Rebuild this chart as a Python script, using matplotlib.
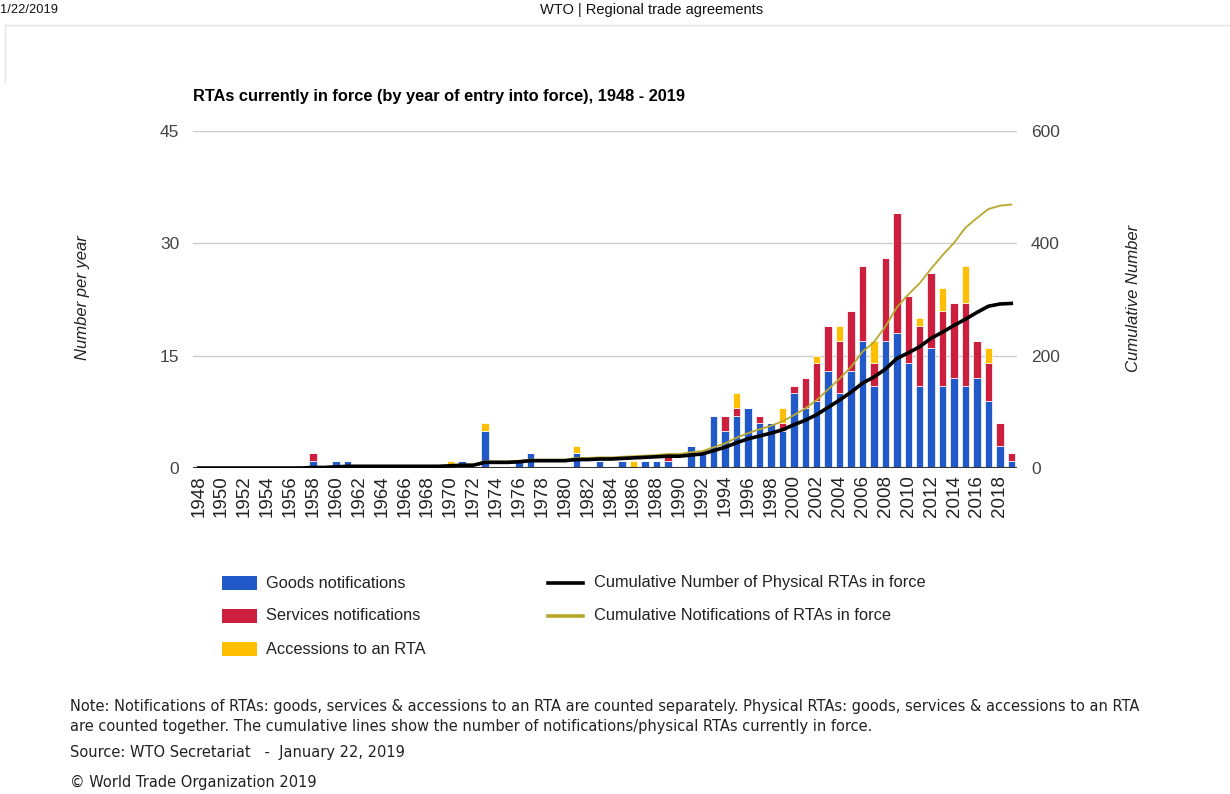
import matplotlib
matplotlib.use("Agg")
import matplotlib.pyplot as plt
from matplotlib.patches import Rectangle
from matplotlib.lines import Line2D
import numpy as np

years = list(range(1948, 2020))

goods = [0,0,0,0,0,0,0,0,0,0, 1,0,1,1,0,0,0,0,0,0,
         0,0,0,1,0,5,0,0,1,2, 0,0,0,2,0,1,0,1,0,1,
         1,1,0,3,2,7,5,7,8,6, 6,5,10,8,9,13,10,13,17,11,
         17,18,14,11,16,11,12,11,12,9, 3,1]
services = [0,0,0,0,0,0,0,0,0,0, 1,0,0,0,0,0,0,0,0,0,
            0,0,0,0,0,0,0,0,0,0, 0,0,0,0,0,0,0,0,0,0,
            0,1,0,0,0,0,2,1,0,1, 0,1,1,4,5,6,7,8,10,3,
            11,16,9,8,10,10,10,11,5,5, 3,1]
accessions = [0,0,0,0,0,0,0,0,0,0, 0,0,0,0,0,0,0,0,0,0,
              0,0,1,0,0,1,0,0,0,0, 0,0,0,1,0,0,0,0,1,0,
              0,0,0,0,0,0,0,2,0,0, 0,2,0,0,1,0,2,0,0,3,
              0,0,0,1,0,3,0,5,0,2, 0,0]
cum_physical = [0,0,0,0,0,0,0,0,0,0, 1,1,2,3,3,3,3,3,3,3,
                3,3,4,5,5,10,10,10,11,13, 13,13,13,15,15,16,16,17,18,19,
                20,21,21,23,25,31,37,45,52,57, 62,68,77,85,95,108,121,135,151,162,
                176,195,205,216,231,242,254,265,277,288, 292,293]
cum_notifications = [0,0,0,0,0,0,0,0,0,0, 2,2,3,4,4,4,4,4,4,4,
                     4,4,5,6,6,12,12,12,13,15, 15,15,15,18,18,19,19,20,21,22,
                     23,25,25,28,30,37,44,54,62,69, 75,83,94,106,121,140,159,180,207,224,
                     252,286,309,329,355,379,401,428,445,461, 467,469]

left_ticks = [0, 15, 30, 45]
right_ticks = [0, 200, 400, 600]

C_GOODS = "#2159c8"
C_SERV = "#cc1f3d"
C_ACC = "#fdbf00"
C_PHYS = "#000000"
C_NOTIF = "#b8a82c"

W, H = 1230, 794
fig = plt.figure(figsize=(W/100, H/100), dpi=100)
plt.rcParams['font.family'] = ['Liberation Sans', 'DejaVu Sans']

def fx(x): return x / W
def fy(y): return 1 - y / H

# header
fig.text(fx(0), fy(10), "1/22/2019", fontsize=9.3, va='center', ha='left', color='#111')
fig.text(fx(652), fy(10), "WTO | Regional trade agreements", fontsize=10.5, va='center', ha='center', color='#111')
fig.add_artist(Line2D([fx(5), fx(1230)], [fy(25), fy(25)], color='#e4e4e4', lw=1))
fig.add_artist(Line2D([fx(5), fx(5)], [fy(25), fy(82)], color='#e4e4e4', lw=1))

# title
fig.text(fx(193), fy(97), "RTAs currently in force (by year of entry into force), 1948 - 2019",
         fontsize=11.8, fontweight='bold', va='center', ha='left', color='#000')

ax = fig.add_axes([fx(193), fy(468), (1017-193)/W, (468-131)/H])
x = np.arange(len(years))
g = np.array(goods); s = np.array(services); a = np.array(accessions)
bw = 0.66
ax.bar(x, g, width=bw, color=C_GOODS, edgecolor='white', linewidth=0.5, zorder=2)
ax.bar(x, s, width=bw, bottom=g, color=C_SERV, edgecolor='white', linewidth=0.5, zorder=2)
ax.bar(x, a, width=bw, bottom=g+s, color=C_ACC, edgecolor='white', linewidth=0.5, zorder=2)

ax.set_xlim(-0.5, len(years)-0.5)
ax.set_ylim(0, 45)
ax.set_yticks(left_ticks)
ax.set_yticklabels([str(t) for t in left_ticks])
ax.grid(axis='y', color='#cccccc', lw=1, zorder=0)
ax.set_axisbelow(True)
for sp in ax.spines.values():
    sp.set_visible(False)
ax.axhline(0, color='#333333', lw=1.5, zorder=3)
ax.tick_params(axis='y', length=0, labelsize=12.5, labelcolor='#444444', pad=10)
xt = [i for i, yv in enumerate(years) if yv % 2 == 0]
ax.set_xticks(xt)
ax.set_xticklabels([str(years[i]) for i in xt], rotation=90)
ax.tick_params(axis='x', length=0, labelsize=13.5, labelcolor='#222222', pad=5)

ax2 = ax.twinx()
ax2.set_ylim(0, 600)
ax2.set_yticks(right_ticks)
ax2.set_yticklabels([str(t) for t in right_ticks])
for sp in ax2.spines.values():
    sp.set_visible(False)
ax2.tick_params(axis='y', length=0, labelsize=12.5, labelcolor='#444444', pad=10)
ax2.plot(x, cum_notifications, color=C_NOTIF, lw=1.3, zorder=4)
ax2.plot(x, cum_physical, color=C_PHYS, lw=2.6, zorder=5)

fig.text(fx(83), fy(298), "Number per year", rotation=90, fontsize=12, style='italic',
         va='center', ha='center', color='#222')
fig.text(fx(1134), fy(298), "Cumulative Number", rotation=90, fontsize=12, style='italic',
         va='center', ha='center', color='#222')

# legend
leg_rows = [583, 616, 649]
bar_items = [("Goods notifications", C_GOODS), ("Services notifications", C_SERV),
             ("Accessions to an RTA", C_ACC)]
for (lab, col), yy in zip(bar_items, leg_rows):
    fig.add_artist(Rectangle((fx(222), fy(yy+7)), 35/W, 14/H, facecolor=col,
                             edgecolor='none', transform=fig.transFigure))
    fig.text(fx(266), fy(yy), lab, fontsize=11.8, va='center', ha='left', color='#222')
line_items = [("Cumulative Number of Physical RTAs in force", C_PHYS),
              ("Cumulative Notifications of RTAs in force", C_NOTIF)]
for (lab, col), yy in zip(line_items, leg_rows[:2]):
    fig.add_artist(Line2D([fx(548), fx(583)], [fy(yy), fy(yy)], color=col, lw=2.6,
                          transform=fig.transFigure))
    fig.text(fx(594), fy(yy), lab, fontsize=11.8, va='center', ha='left', color='#222')

# notes
nf = dict(fontsize=10.5, va='center', ha='left', color='#222', family='DejaVu Sans')
fig.text(fx(70), fy(707), "Note: Notifications of RTAs: goods, services & accessions to an RTA are counted separately. "
         "Physical RTAs: goods, services & accessions to an RTA", **nf)
fig.text(fx(70), fy(726), "are counted together. The cumulative lines show the number of "
         "notifications/physical RTAs currently in force.", **nf)
fig.text(fx(70), fy(753), "Source: WTO Secretariat   -  January 22, 2019", **nf)
fig.text(fx(70), fy(782), "\u00a9 World Trade Organization 2019", **nf)

fig.savefig("out.png", dpi=100)
